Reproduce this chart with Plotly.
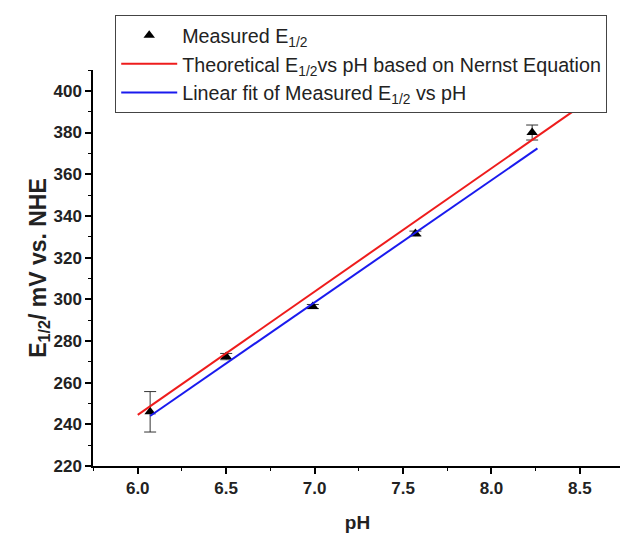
import plotly.graph_objects as go

# Measured data
ph_measured = [6.07, 6.50, 6.99, 7.57, 8.23]
e_measured = [246.0, 272.5, 296.5, 331.5, 380.0]
e_error = [9.7, 1.5, 1.0, 1.2, 3.6]

# Theoretical Nernst line (endpoints)
ph_theory = [6.0, 8.55]
e_theory = [244.5, 395.4]

# Linear fit line (endpoints)
ph_fit = [6.07, 8.26]
e_fit = [244.0, 372.4]

x_ticks = [6.0, 6.5, 7.0, 7.5, 8.0, 8.5]
y_ticks = [220, 240, 260, 280, 300, 320, 340, 360, 380, 400]

FONT = "Liberation Sans, Arial, sans-serif"

fig = go.Figure()
fig.add_trace(go.Scatter(
    x=ph_measured, y=e_measured, mode="markers",
    name="Measured E<sub>1/2</sub>",
    marker=dict(symbol="triangle-up", color="black", size=10),
    error_y=dict(type="data", array=e_error, visible=True, color="#333333", thickness=1, width=6),
))
fig.add_trace(go.Scatter(
    x=ph_theory, y=e_theory, mode="lines",
    name="Theoretical E<sub>1/2</sub>vs pH based on Nernst Equation",
    line=dict(color="#ee1c1c", width=2),
))
fig.add_trace(go.Scatter(
    x=ph_fit, y=e_fit, mode="lines",
    name="Linear fit of Measured E<sub>1/2</sub> vs pH",
    line=dict(color="#1a1aee", width=2),
))

fig.update_layout(
    width=620, height=528,
    margin=dict(l=85, r=6, t=62, b=70),
    paper_bgcolor="white", plot_bgcolor="white",
    font=dict(family=FONT, color="black"),
    showlegend=True,
    legend=dict(
        x=0.042, y=1.139, xanchor="left", yanchor="top",
        bordercolor="#444444", borderwidth=1, bgcolor="white",
        font=dict(size=19.7, family=FONT, color="#222222"),
        tracegroupgap=0, itemwidth=56,
    ),
    xaxis=dict(
        range=[5.747, 8.738], tickvals=x_ticks, ticktext=[f"{v:.1f}" for v in x_ticks],
        automargin=False,
        showgrid=False, zeroline=False, showline=True, linecolor="black", linewidth=1.5,
        ticks="outside", ticklen=6, tickwidth=1.5, tickcolor="black",
        minor=dict(dtick=0.25, ticks="outside", ticklen=3, tickwidth=1, tickcolor="black"),
        tickfont=dict(size=17, family=FONT, color="#222222", weight="bold"),
        title=dict(text="<b>pH</b>", font=dict(size=19, family=FONT, color="#222222"), standoff=19),
    ),
    yaxis=dict(
        range=[220, 410], tickvals=y_ticks,
        automargin=False,
        showgrid=False, zeroline=False, showline=True, linecolor="black", linewidth=1.5,
        ticks="outside", ticklen=6, tickwidth=1.5, tickcolor="black",
        minor=dict(dtick=10, ticks="outside", ticklen=3, tickwidth=1, tickcolor="black"),
        tickfont=dict(size=17, family=FONT, color="#222222", weight="bold"),
        title=dict(text="<b>E<sub>1/2</sub>/ mV vs. NHE</b>", font=dict(size=23, family=FONT, color="#222222"), standoff=0),
    ),
)

fig.write_html("out.html")
